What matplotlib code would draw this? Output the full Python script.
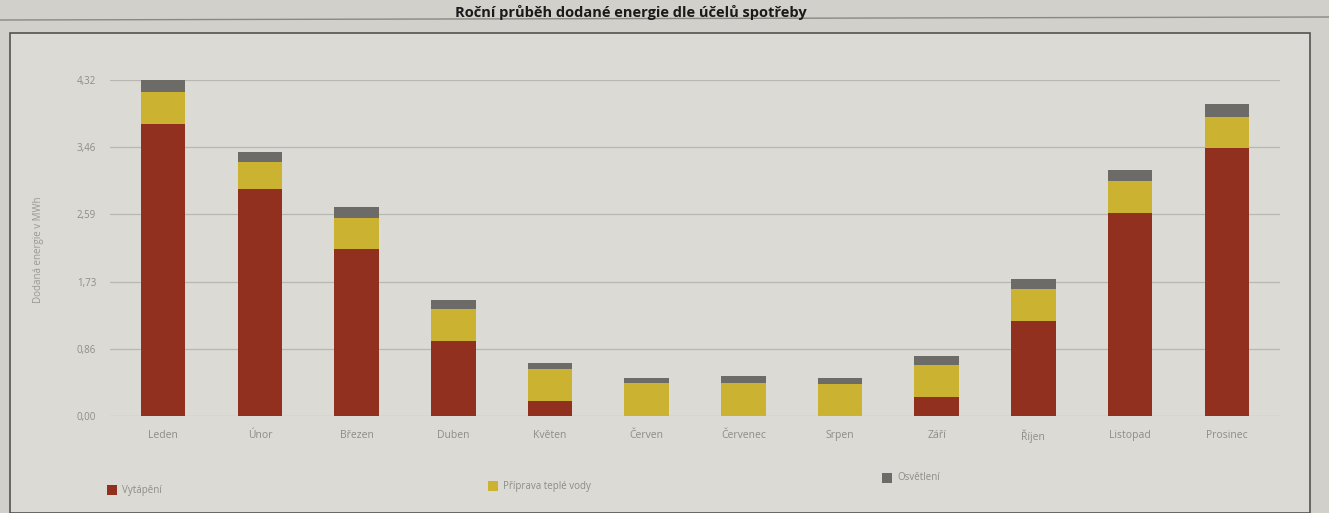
import matplotlib
matplotlib.use("Agg")
import matplotlib.pyplot as plt
from matplotlib.patches import Rectangle
import numpy as np

# Monthly delivered energy by purpose (MWh)
months = ["Leden", "Únor", "Březen", "Duben", "Květen", "Červen",
          "Červenec", "Srpen", "Září", "Říjen", "Listopad", "Prosinec"]
heating = [3.76, 2.92, 2.15, 0.97, 0.19, 0.00, 0.00, 0.00, 0.24, 1.22, 2.61, 3.45]
hot_water = [0.40, 0.34, 0.40, 0.40, 0.41, 0.42, 0.42, 0.41, 0.42, 0.41, 0.41, 0.39]
lighting = [0.16, 0.14, 0.14, 0.12, 0.08, 0.07, 0.09, 0.08, 0.11, 0.13, 0.14, 0.17]
series_names = ["Vytápění", "Příprava teplé vody", "Osvětlení"]
y_ticks = [0.0, 0.864, 1.728, 2.592, 3.456, 4.32]
y_tick_labels = ["0,00", "0,86", "1,73", "2,59", "3,46", "4,32"]

colors = ["#92301f", "#cbb331", "#6c6b67"]
label_grey = "#8d8c87"

W, H = 1329, 513
fig = plt.figure(figsize=(W / 100, H / 100), dpi=100)
fig.patch.set_facecolor("#d2d0ca")

# chart panel with its frame
fig.add_artist(Rectangle((10 / W, 0), 1300 / W, 1 - 33 / H, transform=fig.transFigure,
                         facecolor="#dcdad5", edgecolor="#55534f", lw=1.2, zorder=0))
fig.add_artist(plt.Line2D([0.0, 1.0], [1 - 20 / H, 1 - 17 / H], transform=fig.transFigure,
                          color="#8a8883", lw=1.0))

fig.text(0.475, 1 - 13 / H, "Roční průběh dodané energie dle účelů spotřeby",
         ha="center", va="center", fontsize=10.5, fontweight="bold",
         family="Open Sans", color="#1a1a1a")

ax = fig.add_axes([110 / W, 1 - 416 / H, 1170 / W, (416 - 80) / H])
ax.set_facecolor("none")

x = np.arange(len(months))
heating_a = np.array(heating)
water_a = np.array(hot_water)
light_a = np.array(lighting)
bw = 0.46
ax.bar(x, heating_a, width=bw, color=colors[0], zorder=3)
ax.bar(x, water_a, width=bw, bottom=heating_a, color=colors[1], zorder=3)
ax.bar(x, light_a, width=bw, bottom=heating_a + water_a, color=colors[2], zorder=3)

ax.set_xlim(-0.55, len(months) - 0.45)
ax.set_ylim(0, 4.32)
ax.set_yticks(y_ticks)
ax.set_yticklabels(y_tick_labels)
ax.set_xticks(x)
ax.set_xticklabels(months)
ax.grid(axis="y", color="#b9b7b2", lw=0.9, zorder=0)
for s in ax.spines.values():
    s.set_visible(False)
ax.tick_params(axis="y", length=0, pad=10, labelsize=7, labelcolor=label_grey)
ax.tick_params(axis="x", length=0, pad=10, labelsize=7.5, labelcolor=label_grey)
for t in ax.get_xticklabels() + ax.get_yticklabels():
    t.set_family("Open Sans")

fig.text(38 / W, 1 - 250 / H, "Dodaná energie v MWh", rotation=90,
         ha="center", va="center", fontsize=7, color="#9a9893", family="Open Sans")

# legend row
legend_x = [107, 488, 882]
legend_y = [490, 486, 478]
for name, c, lx, ly in zip(series_names, colors, legend_x, legend_y):
    fig.add_artist(Rectangle((lx / W, 1 - (ly + 5) / H), 10 / W, 10 / H,
                             transform=fig.transFigure, facecolor=c, edgecolor="none"))
    fig.text((lx + 15) / W, 1 - ly / H, name, ha="left", va="center",
             fontsize=7, color=label_grey, family="Open Sans")

fig.savefig("out.png", dpi=100, facecolor=fig.get_facecolor())
